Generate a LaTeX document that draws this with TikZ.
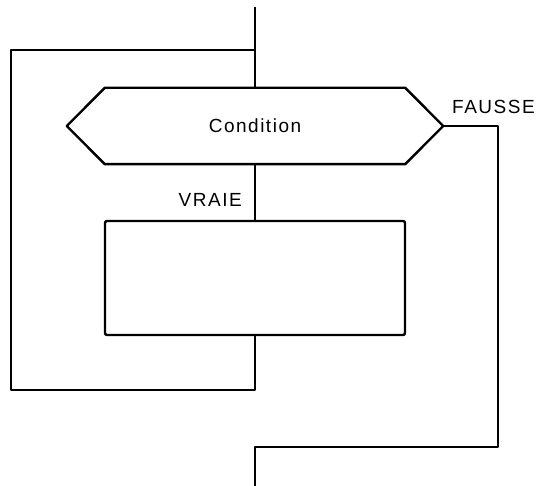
\documentclass[tikz,border=0pt]{standalone}
\usepackage{fontspec}
\usepackage{tikz}
\newfontfamily\etiqfont{Liberation Sans}[LetterSpace=8]
\usetikzlibrary{calc}

\begin{document}
\begin{tikzpicture}[
    x=1pt, y=1pt,
    trait/.style={line width=2.4pt, line join=round, color=black},
    bloc/.style={rectangle, rounded corners=2pt, draw, line width=2.4pt,
                minimum width=300pt, minimum height=114pt},
    test/.style={rectangle, minimum width=300pt, minimum height=76pt,
                font=\etiqfont\fontsize{19}{22}\selectfont},
    etiq/.style={font=\etiqfont\fontsize{19}{22}\selectfont, inner sep=0pt}
]
    \useasboundingbox (0,0) rectangle (536,486);
    \node[test] (cond) at (255,360) {Condition};
    \node[bloc] (corps) at (255,208) {};
    \coordinate (condO) at ($(cond.west)+(-38,0)$);
    \coordinate (condE) at ($(cond.east)+(38,0)$);
    \draw[trait] (cond.north west) -- (cond.north east) -- (condE)
        -- (cond.south east) -- (cond.south west) -- (condO) -- cycle;
    \coordinate (entree)   at (255,479);
    \coordinate (jonction) at (255,436);
    \coordinate (gaucheBas) at (11,96);
    \coordinate (droiteBas) at (498,39);
    \coordinate (sortie)   at (255,0);
    \draw[trait] (entree) -- (cond.north);
    \draw[trait] (cond.south) -- (corps.north);
    \draw[trait] (corps.south) |- (gaucheBas) |- (jonction);
    \draw[trait] (condE) -| (droiteBas) -| (sortie);
    \node[etiq, anchor=base east] (vraie)  at (242,279) {VRAIE};
    \node[etiq, anchor=base west] (fausse) at (452,372) {FAUSSE};
\end{tikzpicture}
\end{document}
